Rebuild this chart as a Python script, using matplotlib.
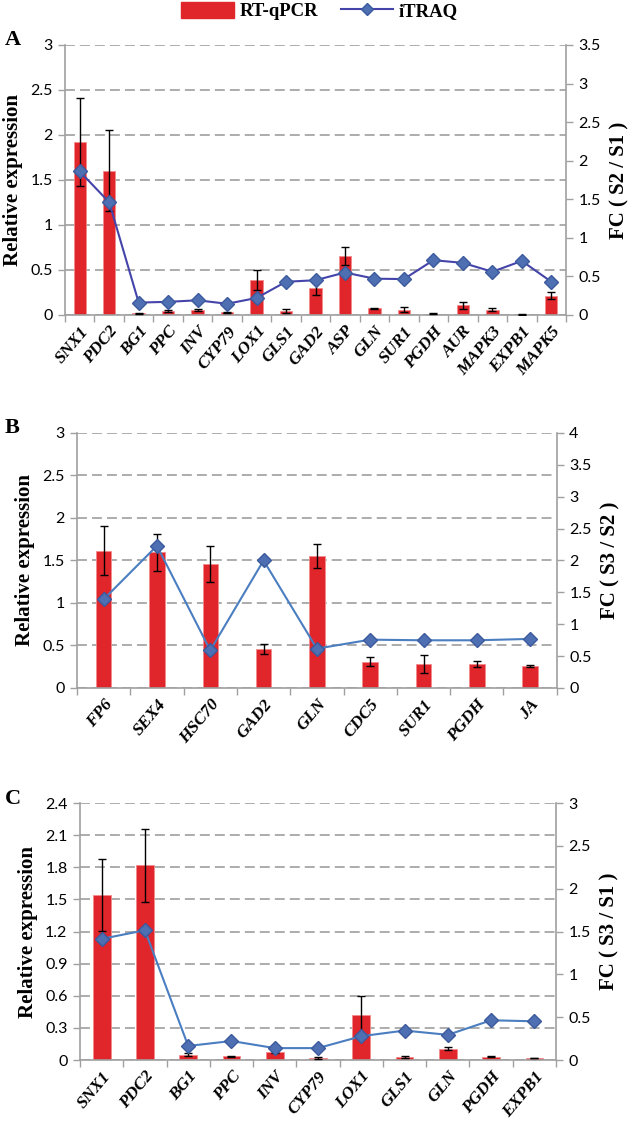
import numpy as np
import matplotlib
matplotlib.use("Agg")
import matplotlib.pyplot as plt
from matplotlib.lines import Line2D
from matplotlib.patches import Patch

# panel A : S2 vs S1
genes_a = ['SNX1', 'PDC2', 'BG1', 'PPC', 'INV', 'CYP79', 'LOX1', 'GLS1', 'GAD2',
           'ASP', 'GLN', 'SUR1', 'PGDH', 'AUR', 'MAPK3', 'EXPB1', 'MAPK5']
qpcr_a = [1.92, 1.60, 0.02, 0.045, 0.055, 0.03, 0.39, 0.041, 0.30, 0.652, 0.072,
          0.06, 0.015, 0.105, 0.058, 0.003, 0.215]
err_a = [0.49, 0.45, 0.005, 0.01, 0.012, 0.006, 0.11, 0.022, 0.075, 0.10, 0.005,
         0.028, 0.004, 0.034, 0.016, 0.002, 0.035]
itraq_a = [1.86, 1.46, 0.16, 0.17, 0.19, 0.145, 0.22, 0.43, 0.45, 0.55, 0.47,
           0.465, 0.71, 0.675, 0.56, 0.70, 0.43]

# panel B : S3 vs S2
genes_b = ['FP6', 'SEX4', 'HSC70', 'GAD2', 'GLN', 'CDC5', 'SUR1', 'PGDH', 'JA']
qpcr_b = [1.615, 1.596, 1.455, 0.454, 1.551, 0.31, 0.282, 0.282, 0.262]
err_b = [0.29, 0.22, 0.21, 0.06, 0.14, 0.053, 0.11, 0.03, 0.01]
itraq_b = [1.39, 2.23, 0.59, 2.0, 0.617, 0.758, 0.748, 0.748, 0.77]

# panel C : S3 vs S1
genes_c = ['SNX1', 'PDC2', 'BG1', 'PPC', 'INV', 'CYP79', 'LOX1', 'GLS1', 'GLN',
           'PGDH', 'EXPB1']
qpcr_c = [1.54, 1.817, 0.05, 0.034, 0.077, 0.019, 0.418, 0.028, 0.105, 0.031, 0.019]
err_c = [0.333, 0.338, 0.012, 0.005, 0.01, 0.005, 0.176, 0.005, 0.015, 0.003, 0.003]
itraq_c = [1.414, 1.515, 0.164, 0.222, 0.139, 0.139, 0.278, 0.344, 0.294, 0.464, 0.452]

RED = '#E0252B'
GRID = '#A6A6A6'
SPINE = '#A0A0A0'
SERIF = ['Liberation Serif', 'DejaVu Serif']
SANS = ['Lato', 'DejaVu Sans']

fig = plt.figure(figsize=(6.33, 11.26), dpi=100)


def panel(rect, genes, qpcr, err, itraq, lmax, lstep, rmax, bw, lcol, ylab, tag, fmt):
    ax = fig.add_axes(rect)
    x = np.arange(len(genes))
    ax.bar(x, qpcr, width=bw, color=RED, edgecolor='#F28A8C', lw=0.6, zorder=2)
    ax.errorbar(x, qpcr, yerr=err, fmt='none', ecolor='black', elinewidth=1,
                capsize=3, capthick=1, zorder=3)
    ax.set_xlim(-0.5, len(genes) - 0.5)
    ax.set_ylim(0, lmax)
    ticks = np.arange(0, lmax + lstep / 2, lstep)
    ax.set_yticks(ticks)
    ax.set_yticklabels([fmt(t) for t in ticks], family=SANS, fontsize=11.5)
    ax.yaxis.grid(True, color=GRID, lw=1.3, linestyle=(0, (5.5, 2.8)), zorder=0)
    ax.set_axisbelow(True)
    ax.set_xticks(x)
    ax.set_xticklabels(genes, rotation=50, ha='right', rotation_mode='anchor',
                       family=SERIF, fontsize=12.5, fontweight='bold', fontstyle='italic')
    ax.set_xticks(np.arange(-0.5, len(genes)), minor=True)
    ax.tick_params(axis='x', which='major', length=0, pad=6)
    ax.tick_params(axis='x', which='minor', length=5, color=SPINE, width=1)
    ax.tick_params(axis='y', length=5, color=SPINE, width=1, pad=4)
    for s in ['top', 'right']:
        ax.spines[s].set_visible(False)
    for s in ['left', 'bottom']:
        ax.spines[s].set_color(SPINE)
        ax.spines[s].set_linewidth(1.2)
    ax.set_ylabel('Relative expression', family=SERIF, fontsize=15,
                  fontweight='bold', labelpad=5)

    ax2 = ax.twinx()
    ax2.plot(x, itraq, color=lcol, lw=1.5, marker='D', ms=7,
             markerfacecolor='#4F6FB3', markeredgecolor='#3C5A9E', zorder=4)
    ax2.set_ylim(0, rmax)
    rt = np.arange(0, rmax + 0.25, 0.5)
    ax2.set_yticks(rt)
    ax2.set_yticklabels(['%g' % t for t in rt], family=SANS, fontsize=11.5)
    ax2.tick_params(axis='y', length=5, color=SPINE, width=1, pad=4)
    for s in ['top', 'left', 'bottom']:
        ax2.spines[s].set_visible(False)
    ax2.spines['right'].set_color(SPINE)
    ax2.spines['right'].set_linewidth(1.2)
    ax2.set_ylabel(ylab, family=SERIF, fontsize=15, fontweight='bold', labelpad=6)
    fig.text(0.008, rect[1] + rect[3] + 0.004, tag, family=SERIF, fontsize=16,
             fontweight='bold', ha='left', va='center')
    return ax


panel([0.1027, 0.7203, 0.7915, 0.2398], genes_a, qpcr_a, err_a, itraq_a,
      3, 0.5, 3.5, 0.42, '#4444AA', 'FC ( S2 / S1 )', 'A', lambda t: '%g' % t)
panel([0.1216, 0.389, 0.758, 0.2265], genes_b, qpcr_b, err_b, itraq_b,
      3, 0.5, 4, 0.29, '#4A7EC0', 'FC ( S3 / S2 )', 'B', lambda t: '%g' % t)
panel([0.1264, 0.0586, 0.752, 0.2282], genes_c, qpcr_c, err_c, itraq_c,
      2.4, 0.3, 3, 0.41, '#4A7EC0', 'FC ( S3 / S1 )', 'C', lambda t: '%g' % round(t, 1))

handles = [Patch(facecolor=RED, edgecolor=RED),
           Line2D([0], [0], color='#4444AA', lw=1.5, marker='D', ms=6,
                  markerfacecolor='#4F6FB3', markeredgecolor='#3C5A9E')]
fig.legend(handles, ['RT-qPCR', 'iTRAQ'], loc='center', bbox_to_anchor=(0.505, 0.99),
           ncol=2, frameon=False, prop={'family': SERIF, 'weight': 'bold', 'size': 13.5},
           handlelength=2.8, handleheight=0.9, columnspacing=1.2, handletextpad=0.3)

fig.savefig('out.png', dpi=100)
